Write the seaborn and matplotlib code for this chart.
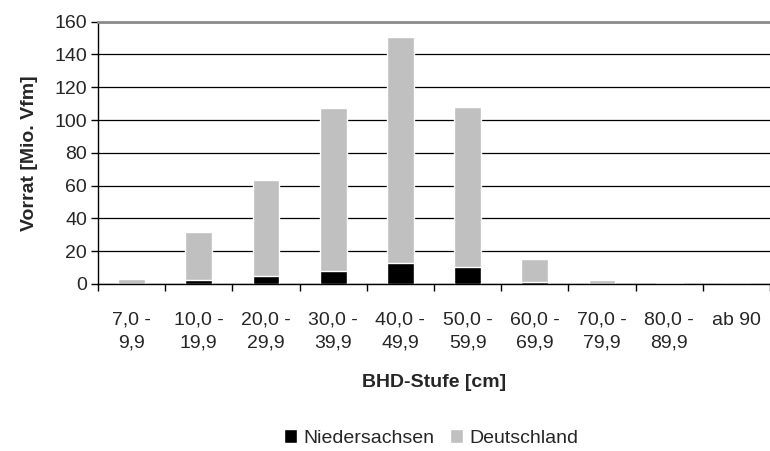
"""
Vorrat nach BHD-Stufe: Niedersachsen vs. Deutschland (stacked look, Excel style)
"""
import numpy as np
import pandas as pd
import seaborn as sns
import matplotlib.pyplot as plt
from matplotlib.patches import Patch
from matplotlib.ticker import MultipleLocator, FixedLocator

# data
bhd_stufen = ['7,0 -\n9,9', '10,0 -\n19,9', '20,0 -\n29,9', '30,0 -\n39,9',
              '40,0 -\n49,9', '50,0 -\n59,9', '60,0 -\n69,9', '70,0 -\n79,9',
              '80,0 -\n89,9', 'ab 90']
deutschland = [3.0, 31.6, 63.4, 107.4, 150.8, 107.9, 15.3, 2.3, 0.4, 0.2]
niedersachsen = [0.1, 2.3, 4.9, 7.8, 12.8, 10.3, 1.0, 0.1, 0.05, 0.02]

df = pd.DataFrame({'stufe': bhd_stufen, 'Deutschland': deutschland,
                   'Niedersachsen': niedersachsen})

sns.set_style('white')
plt.rcParams['font.family'] = ['Liberation Sans', 'DejaVu Sans']
fs = 14

fig = plt.figure(figsize=(7.7, 4.51), dpi=100)
ax = fig.add_axes([98/770., 1-284/451., 672/770., 262.3/451.])

# grey total first, black part on top of it
sns.barplot(data=df, x='stufe', y='Deutschland', color='#c0c0c0', width=0.4,
            saturation=1, ax=ax)
sns.barplot(data=df, x='stufe', y='Niedersachsen', color='black', width=0.4,
            saturation=1, ax=ax)

ax.set_xlim(-0.5, 9.5)
ax.set_ylim(0, 160)
ax.yaxis.set_major_locator(MultipleLocator(20))
ax.yaxis.grid(True, color='black', lw=0.9)
ax.set_axisbelow(True)

#ticks between categories, labels in the middle
ax.xaxis.set_minor_locator(FixedLocator(np.arange(-0.5, 10, 1)))
ax.tick_params(axis='x', which='major', length=0, pad=20, labelsize=fs)
ax.tick_params(axis='x', which='minor', length=5, width=1, color='black',
               direction='out', bottom=True)
ax.tick_params(axis='y', length=5, width=1, color='black', direction='out',
               left=True, pad=3, labelsize=fs)
for t in ax.get_xticklabels():
    t.set_linespacing(1.45)

for s in ['left', 'bottom']:
    ax.spines[s].set_color('black')
    ax.spines[s].set_linewidth(1)
ax.spines['right'].set_visible(False)
ax.spines['top'].set_color('#8c8c8c')
ax.spines['top'].set_linewidth(2)

ax.set_xlabel('BHD-Stufe [cm]', fontsize=fs, fontweight='bold')
ax.set_ylabel('Vorrat [Mio. Vfm]', fontsize=fs, fontweight='bold')
ax.xaxis.set_label_coords(0.5, -0.345)
ax.yaxis.set_label_coords(-0.09, 0.5)

handles = [Patch(facecolor='black'), Patch(facecolor='#c0c0c0')]
fig.legend(handles, ['Niedersachsen', 'Deutschland'], loc='center',
           bbox_to_anchor=(431/770., 1-438/451.), ncol=2, frameon=False,
           fontsize=fs, handlelength=0.7, handleheight=0.7,
           handletextpad=0.3, columnspacing=0.8)

plt.savefig('out.png', dpi=100)
